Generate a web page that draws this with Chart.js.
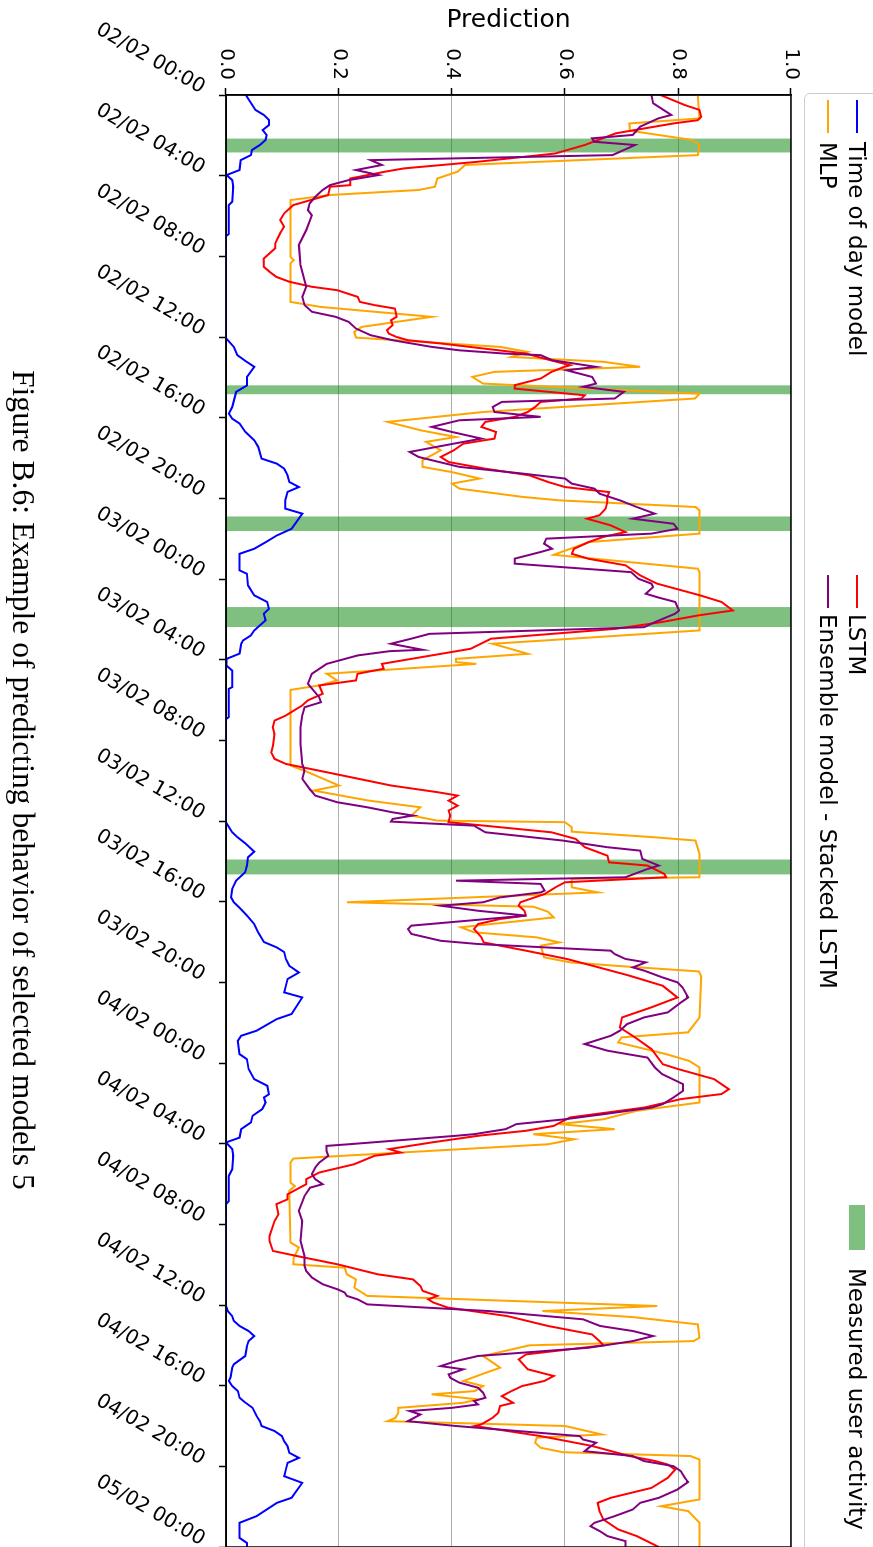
<!DOCTYPE html>
<html><head><meta charset="utf-8">
<script src="https://cdn.jsdelivr.net/npm/chart.js@4.4.1/dist/chart.umd.min.js"></script>
<style>
html,body{margin:0;padding:0;background:#fff;overflow:hidden;width:873px;height:1547px;}
#fig{position:absolute;left:0;top:0;width:1547px;height:873px;transform-origin:0 0;transform:translate(873px,0) rotate(90deg);background:#fff;overflow:hidden;font-family:'DejaVu Sans';}
#chartWrap{position:absolute;left:0;top:0;width:1547px;height:873px;}
.legbox{position:absolute;left:93px;top:-30px;width:1600px;height:97px;border:1.5px solid #cccccc;border-radius:6px;background:#fff;}
.h{position:absolute;height:2px;width:33px;}
.t{position:absolute;font-size:23px;line-height:28px;height:28px;white-space:nowrap;color:#000;}
#cap{position:absolute;font-family:'Liberation Serif';white-space:nowrap;color:#000;line-height:normal;}
</style></head>
<body>
<div id="fig">
  <div id="chartWrap"><canvas id="c" width="1547" height="873"></canvas></div>
  <div class="legbox"></div>
  <div class="h" style="left:100px;top:15px;background:#0000ff"></div>
  <div class="t" style="left:142px;top:2px">Time of day model</div>
  <div class="h" style="left:100px;top:44px;background:#ffa500"></div>
  <div class="t" style="left:142px;top:31px">MLP</div>
  <div class="h" style="left:575px;top:15px;background:#ff0000"></div>
  <div class="t" style="left:614px;top:2px">LSTM</div>
  <div class="h" style="left:575px;top:44px;background:#800080"></div>
  <div class="t" style="left:614px;top:31px">Ensemble model - Stacked LSTM</div>
  <div style="position:absolute;left:1205px;top:8px;width:45px;height:16px;background:rgba(0,128,0,0.5)"></div>
  <div class="t" style="left:1268px;top:2px">Measured user activity</div>
  <div id="cap">Figure B.6: Example of predicting behavior of selected models 5</div>
</div>
<script>
// ---- data (time in hours from 02/02 00:00, prediction value) ----
const timeTickLabels = ['02/02 00:00','02/02 04:00','02/02 08:00','02/02 12:00','02/02 16:00','02/02 20:00',
  '03/02 00:00','03/02 04:00','03/02 08:00','03/02 12:00','03/02 16:00','03/02 20:00',
  '04/02 00:00','04/02 04:00','04/02 08:00','04/02 12:00','04/02 16:00','04/02 20:00','05/02 00:00'];
const predTickLabels = ['0.0','0.2','0.4','0.6','0.8','1.0'];

const activityStart = [2.15, 14.39, 20.89, 25.39, 37.9];
const activityEnd   = [2.86, 14.85, 21.62, 26.39, 38.66];

const timeOfDay = [[0,0.035],[0.74,0.052],[0.99,0.067],[1.24,0.076],[1.49,0.076],[1.74,0.065],[1.99,0.072],[2.23,0.07],[2.48,0.06],[2.73,0.046],[2.98,0.044],[3.23,0.026],[3.72,0.024],[3.97,0.001],[4.22,0.011],[4.55,0.013],[5.29,0.011],[5.46,0.005],[6.9,0.005],[7.0,0],[12.06,0],[12.5,0.014],[12.9,0.02],[13.2,0.035],[13.48,0.05],[13.98,0.037],[14.4,0.037],[14.72,0.018],[15.47,0.011],[15.8,0.005],[16.05,0.011],[16.29,0.024],[16.7,0.034],[17.12,0.05],[17.45,0.057],[18.03,0.063],[18.28,0.09],[18.53,0.103],[18.86,0.109],[19.19,0.112],[19.44,0.129],[19.68,0.109],[20.1,0.105],[20.51,0.105],[20.76,0.135],[21.51,0.116],[21.84,0.09],[22.18,0.07],[22.5,0.05],[22.75,0.024],[23.57,0.024],[23.74,0.037],[24.32,0.039],[24.81,0.05],[25.14,0.073],[25.48,0.076],[25.72,0.067],[26.05,0.07],[26.3,0.06],[26.55,0.05],[26.8,0.044],[27.05,0.03],[27.21,0.027],[27.7,0.024],[27.96,0.001],[28.3,0.001],[28.54,0.011],[29.36,0.011],[29.45,0.005],[30.85,0.005],[30.95,0],[36.06,0],[36.3,0.005],[36.56,0.011],[36.8,0.02],[37.1,0.034],[37.52,0.05],[37.8,0.039],[38.2,0.037],[38.54,0.034],[38.96,0.018],[39.37,0.011],[39.79,0.009],[40.03,0.014],[40.3,0.024],[40.69,0.037],[41.11,0.05],[41.52,0.057],[42.0,0.067],[42.27,0.09],[42.5,0.103],[42.84,0.106],[43.18,0.112],[43.51,0.129],[43.84,0.109],[44.17,0.106],[44.5,0.103],[44.75,0.135],[45.57,0.116],[45.82,0.09],[46.4,0.054],[46.65,0.027],[46.9,0.021],[47.56,0.024],[47.81,0.037],[48.3,0.04],[48.8,0.05],[49.13,0.073],[49.55,0.076],[49.71,0.067],[49.96,0.07],[50.29,0.064],[50.62,0.047],[50.95,0.044],[51.28,0.027],[51.7,0.024],[51.94,0],[52.27,0.011],[52.6,0.013],[53.27,0.011],[53.6,0.005],[54.85,0.005],[55.0,0],[60.05,0],[60.3,0.003],[60.55,0.011],[60.79,0.014],[61.04,0.024],[61.29,0.04],[61.54,0.05],[61.79,0.04],[62.04,0.037],[62.53,0.034],[62.94,0.014],[63.11,0.011],[63.6,0.008],[63.77,0.005],[64.02,0.011],[64.27,0.021],[64.6,0.024],[64.77,0.031],[65.1,0.047],[65.5,0.054],[65.76,0.06],[66.0,0.063],[66.25,0.086],[66.5,0.099],[66.75,0.103],[67.0,0.109],[67.33,0.112],[67.58,0.129],[67.83,0.109],[68.16,0.106],[68.49,0.103],[68.82,0.135],[69.56,0.116],[69.81,0.09],[70.47,0.054],[70.8,0.024],[71.55,0.024],[71.8,0.037],[72,0.037]];

const mlp = [[0,0.835],[1.16,0.838],[1.41,0.714],[1.77,0.715],[2.23,0.825],[2.48,0.838],[2.98,0.835],[3.47,0.423],[3.8,0.41],[4.14,0.374],[4.55,0.37],[4.71,0.341],[4.96,0.184],[5.21,0.114],[8.03,0.114],[8.19,0.12],[8.35,0.114],[10.26,0.114],[10.51,0.168],[11.0,0.364],[11.5,0.24],[11.75,0.227],[12.03,0.23],[12.49,0.485],[12.74,0.534],[12.99,0.505],[13.23,0.668],[13.48,0.733],[13.73,0.475],[13.98,0.436],[14.31,0.455],[14.81,0.838],[15.05,0.83],[15.72,0.455],[16.21,0.286],[16.63,0.345],[16.96,0.407],[17.2,0.354],[17.62,0.38],[18.11,0.348],[18.44,0.348],[18.7,0.4],[19.02,0.449],[19.27,0.4],[19.52,0.413],[19.93,0.525],[20.1,0.59],[20.43,0.831],[20.6,0.838],[21.75,0.838],[22.17,0.642],[22.8,0.58],[23.49,0.835],[23.65,0.838],[26.55,0.838],[27.05,0.563],[27.21,0.472],[27.71,0.534],[27.96,0.407],[28.12,0.407],[28.21,0.443],[28.7,0.178],[29.03,0.197],[29.28,0.165],[29.5,0.114],[33.25,0.114],[33.58,0.145],[34.24,0.2],[34.49,0.155],[34.99,0.253],[35.32,0.344],[35.73,0.328],[35.98,0.374],[36.06,0.6],[36.31,0.612],[36.53,0.612],[36.81,0.76],[36.97,0.831],[37.63,0.838],[38.79,0.838],[38.87,0.612],[39.29,0.612],[39.54,0.658],[40.03,0.214],[40.25,0.544],[40.5,0.57],[40.78,0.58],[41.27,0.416],[41.52,0.439],[41.77,0.55],[42.02,0.59],[42.18,0.557],[42.76,0.563],[43.01,0.609],[43.2,0.7],[43.46,0.837],[43.7,0.841],[45.74,0.838],[46.48,0.818],[46.73,0.7],[46.98,0.694],[47.56,0.779],[47.9,0.82],[48.22,0.838],[49.96,0.838],[50.37,0.727],[50.79,0.668],[51.03,0.59],[51.28,0.688],[51.53,0.544],[51.78,0.616],[52.03,0.57],[52.74,0.119],[52.94,0.114],[53.93,0.114],[54.1,0.122],[54.34,0.112],[56.9,0.114],[57.15,0.129],[57.65,0.12],[57.98,0.119],[58.15,0.21],[58.48,0.214],[58.73,0.23],[59.14,0.227],[59.55,0.25],[60.05,0.763],[60.3,0.56],[60.6,0.72],[60.96,0.835],[61.62,0.838],[61.79,0.828],[62.0,0.537],[62.53,0.455],[62.85,0.472],[63.11,0.485],[63.44,0.452],[63.77,0.42],[64.02,0.455],[64.27,0.44],[64.43,0.364],[64.68,0.446],[64.85,0.42],[65.1,0.305],[65.34,0.305],[65.6,0.3],[65.76,0.286],[66.0,0.6],[66.42,0.665],[66.58,0.55],[66.83,0.547],[67.08,0.557],[67.3,0.596],[67.49,0.822],[67.66,0.838],[69.64,0.838],[69.98,0.77],[70.22,0.818],[70.8,0.838],[72,0.838]];

const lstm = [[0,0.769],[0.5,0.812],[0.74,0.838],[1.08,0.841],[1.25,0.835],[1.41,0.792],[1.9,0.69],[2.48,0.635],[2.9,0.583],[3.31,0.446],[3.64,0.315],[3.8,0.282],[4.14,0.22],[4.47,0.22],[4.55,0.184],[4.96,0.181],[5.46,0.119],[5.87,0.103],[6.2,0.096],[6.53,0.103],[6.85,0.096],[7.36,0.087],[7.6,0.087],[8.11,0.067],[8.52,0.067],[8.76,0.077],[9.02,0.089],[9.26,0.112],[9.51,0.152],[9.68,0.197],[10.01,0.233],[10.26,0.237],[10.42,0.263],[10.59,0.299],[11.0,0.302],[11.17,0.292],[11.41,0.295],[11.66,0.285],[11.83,0.288],[12.0,0.302],[12.16,0.322],[12.32,0.38],[12.82,0.531],[13.07,0.563],[13.4,0.609],[13.48,0.599],[13.73,0.576],[14.06,0.557],[14.39,0.511],[14.56,0.511],[14.89,0.635],[15.05,0.629],[15.22,0.557],[15.47,0.547],[15.72,0.534],[15.96,0.511],[16.21,0.459],[16.46,0.452],[16.71,0.478],[17.04,0.475],[17.29,0.42],[17.62,0.403],[17.95,0.38],[18.2,0.394],[18.53,0.459],[18.86,0.537],[19.19,0.57],[19.44,0.6],[19.69,0.678],[19.93,0.675],[20.18,0.675],[20.51,0.672],[20.84,0.661],[21.01,0.639],[21.34,0.681],[21.67,0.707],[21.92,0.667],[22.17,0.642],[22.5,0.616],[22.75,0.612],[23.0,0.642],[23.32,0.707],[23.82,0.733],[24.23,0.763],[24.81,0.839],[25.14,0.877],[25.56,0.897],[25.8,0.837],[26.14,0.77],[26.47,0.69],[26.96,0.469],[27.46,0.433],[28.21,0.276],[28.45,0.279],[28.7,0.233],[29.03,0.23],[29.28,0.165],[29.69,0.171],[30.02,0.145],[30.27,0.135],[30.77,0.106],[31.02,0.086],[31.35,0.083],[31.68,0.086],[32.26,0.083],[32.6,0.08],[32.92,0.086],[33.17,0.106],[33.58,0.178],[34.24,0.292],[34.57,0.374],[34.74,0.41],[34.99,0.394],[35.24,0.41],[35.48,0.394],[35.73,0.397],[36.06,0.394],[36.2,0.446],[36.56,0.576],[36.89,0.619],[37.3,0.635],[37.72,0.675],[38.05,0.678],[38.21,0.746],[38.63,0.776],[38.79,0.779],[39.04,0.6],[39.29,0.583],[39.62,0.564],[40.03,0.521],[40.2,0.518],[40.45,0.528],[40.69,0.531],[40.86,0.485],[41.11,0.446],[41.36,0.439],[41.77,0.452],[42.02,0.456],[42.18,0.485],[42.43,0.531],[42.84,0.603],[43.18,0.649],[43.67,0.714],[44.17,0.773],[44.75,0.799],[45.24,0.753],[45.74,0.701],[46.24,0.697],[46.73,0.724],[47.31,0.753],[48.06,0.773],[48.3,0.8],[48.8,0.864],[49.3,0.89],[49.54,0.877],[49.79,0.805],[50.21,0.74],[50.7,0.609],[51.12,0.58],[51.36,0.531],[51.61,0.446],[51.94,0.364],[52.27,0.289],[52.44,0.309],[52.6,0.263],[53.02,0.227],[53.43,0.165],[53.76,0.142],[54.01,0.142],[54.51,0.109],[54.76,0.109],[55.0,0.089],[55.5,0.093],[55.83,0.086],[56.58,0.077],[56.82,0.077],[57.32,0.083],[57.65,0.139],[57.98,0.197],[58.48,0.269],[58.73,0.331],[59.06,0.344],[59.3,0.348],[59.55,0.374],[59.72,0.358],[59.88,0.367],[60.13,0.393],[60.55,0.498],[61.04,0.57],[61.46,0.648],[61.79,0.661],[62.0,0.668],[62.45,0.531],[62.7,0.518],[63.19,0.534],[63.52,0.58],[63.77,0.563],[64.02,0.524],[64.27,0.505],[64.52,0.488],[64.85,0.508],[65.01,0.485],[65.34,0.482],[65.59,0.472],[65.92,0.452],[66.0,0.44],[66.5,0.557],[66.99,0.648],[67.49,0.714],[67.74,0.76],[67.91,0.782],[68.16,0.795],[68.57,0.782],[69.07,0.753],[69.56,0.681],[69.81,0.658],[70.22,0.661],[70.64,0.668],[71.13,0.694],[71.46,0.727],[72,0.766]];

const ensemble = [[0,0.753],[0.41,0.756],[0.99,0.788],[1.16,0.765],[1.57,0.733],[1.98,0.72],[2.15,0.648],[2.32,0.652],[2.48,0.724],[2.98,0.684],[3.23,0.256],[3.47,0.276],[3.72,0.23],[3.97,0.27],[4.22,0.217],[4.47,0.184],[4.71,0.171],[5.05,0.158],[5.38,0.148],[5.71,0.145],[5.96,0.152],[6.7,0.142],[7.44,0.129],[8.44,0.132],[9.51,0.142],[10.01,0.135],[10.42,0.139],[10.75,0.152],[11.0,0.194],[11.25,0.217],[11.58,0.23],[11.91,0.256],[12.16,0.295],[12.49,0.364],[12.66,0.413],[12.82,0.492],[12.9,0.557],[13.15,0.577],[13.48,0.655],[13.65,0.603],[13.98,0.648],[14.31,0.655],[14.47,0.632],[14.72,0.704],[15.05,0.688],[15.22,0.488],[15.47,0.472],[15.72,0.475],[15.96,0.557],[16.13,0.413],[16.46,0.364],[16.71,0.4],[17.04,0.452],[17.29,0.403],[17.7,0.325],[17.95,0.341],[18.11,0.364],[18.44,0.413],[18.77,0.524],[19.02,0.6],[19.27,0.612],[19.52,0.652],[19.77,0.661],[20.1,0.697],[20.43,0.727],[20.76,0.759],[21.01,0.72],[21.26,0.792],[21.51,0.799],[21.75,0.753],[22.0,0.567],[22.25,0.563],[22.5,0.577],[22.66,0.557],[22.99,0.511],[23.24,0.511],[23.66,0.717],[23.99,0.73],[24.23,0.753],[24.4,0.756],[24.73,0.743],[24.9,0.763],[25.14,0.795],[25.56,0.802],[25.72,0.795],[26.14,0.759],[26.39,0.74],[26.72,0.36],[26.96,0.328],[27.21,0.292],[27.51,0.348],[27.58,0.289],[27.79,0.233],[28.21,0.178],[28.7,0.152],[29.2,0.145],[29.86,0.165],[30.11,0.168],[30.36,0.139],[30.77,0.135],[31.35,0.132],[32.18,0.132],[33.17,0.135],[33.5,0.139],[33.91,0.135],[34.41,0.148],[34.74,0.158],[35.07,0.197],[35.32,0.25],[35.57,0.295],[35.73,0.331],[35.9,0.295],[36.03,0.292],[36.23,0.439],[36.56,0.459],[36.97,0.596],[37.3,0.675],[37.47,0.733],[37.88,0.737],[38.21,0.766],[38.38,0.746],[38.79,0.707],[38.96,0.407],[39.12,0.557],[39.45,0.564],[39.54,0.557],[39.79,0.485],[40.03,0.455],[40.2,0.38],[40.45,0.446],[40.69,0.531],[41.19,0.328],[41.36,0.322],[41.6,0.328],[41.94,0.38],[42.1,0.446],[42.43,0.681],[42.6,0.688],[42.84,0.707],[43.01,0.743],[43.26,0.72],[43.42,0.74],[43.75,0.772],[44.0,0.799],[44.25,0.808],[44.75,0.818],[45.0,0.805],[45.49,0.782],[45.74,0.74],[46.07,0.71],[46.4,0.697],[46.65,0.681],[47.06,0.635],[47.39,0.675],[47.73,0.746],[48.22,0.759],[48.55,0.772],[49.05,0.809],[49.38,0.809],[49.71,0.792],[50.04,0.773],[50.21,0.753],[50.54,0.668],[50.79,0.6],[51.03,0.514],[51.28,0.495],[51.53,0.439],[51.61,0.407],[52.03,0.217],[52.11,0.178],[52.36,0.178],[52.6,0.181],[52.94,0.165],[53.18,0.158],[53.51,0.152],[53.76,0.158],[54.01,0.171],[54.18,0.149],[54.59,0.139],[55.33,0.129],[55.83,0.135],[56.82,0.132],[57.57,0.139],[58.06,0.139],[58.31,0.142],[58.64,0.152],[58.97,0.171],[59.22,0.197],[59.38,0.21],[59.55,0.214],[59.72,0.233],[59.97,0.25],[60.3,0.465],[60.71,0.632],[61.04,0.662],[61.29,0.72],[61.54,0.756],[61.79,0.72],[62.12,0.642],[62.53,0.446],[62.78,0.407],[63.03,0.38],[63.19,0.42],[63.44,0.394],[63.61,0.397],[63.85,0.413],[64.1,0.446],[64.35,0.455],[64.6,0.459],[64.76,0.439],[64.93,0.446],[65.1,0.4],[65.26,0.325],[65.43,0.344],[65.67,0.328],[65.76,0.322],[66.0,0.407],[66.5,0.626],[66.67,0.632],[66.83,0.655],[67.08,0.642],[67.25,0.635],[67.49,0.72],[67.74,0.74],[67.99,0.792],[68.24,0.805],[68.57,0.812],[68.78,0.818],[69.15,0.799],[69.56,0.766],[69.81,0.733],[70.14,0.72],[70.47,0.688],[70.8,0.652],[70.97,0.645],[71.22,0.662],[71.46,0.675],[71.71,0.707],[72,0.707]];

// ---- build chart ----
const toPts = arr => arr.map(p => ({x: p[0], y: p[1]}));
const activityPts = [];
activityStart.forEach((s, i) => {
  activityPts.push({x: s, y: 1}, {x: activityEnd[i], y: 1}, {x: activityEnd[i], y: null});
});

Chart.defaults.font.family = "'DejaVu Sans'";
Chart.defaults.color = '#000';

const framePlugin = {
  id: 'frame',
  afterDatasetsDraw(chart) {
    const {ctx, chartArea: a} = chart;
    ctx.save();
    ctx.strokeStyle = '#000';
    ctx.lineWidth = 1.5;
    ctx.strokeRect(a.left, a.top, a.right - a.left, a.bottom - a.top);
    ctx.restore();
  }
};

const lineDs = (label, data, color, order) => ({
  label, data: toPts(data), borderColor: color, backgroundColor: color,
  borderWidth: 2, pointRadius: 0, tension: 0, fill: false, order
});

new Chart(document.getElementById('c'), {
  type: 'line',
  data: {
    datasets: [
      {label: 'Measured user activity', data: activityPts, borderWidth: 0, borderColor: 'rgba(0,0,0,0)',
       backgroundColor: 'rgba(0,128,0,0.5)', fill: 'origin', pointRadius: 0, spanGaps: false, order: 10},
      lineDs('Time of day model', timeOfDay, '#0000ff', 4),
      lineDs('MLP', mlp, '#ffa500', 3),
      lineDs('LSTM', lstm, '#ff0000', 2),
      lineDs('Ensemble model - Stacked LSTM', ensemble, '#800080', 1)
    ]
  },
  options: {
    responsive: false, animation: false, devicePixelRatio: 1,
    layout: {padding: {top: 82, right: 0, left: 0, bottom: 0}},
    plugins: {legend: {display: false}, tooltip: {enabled: false}},
    scales: {
      x: {
        type: 'linear', min: 0, max: 72, position: 'bottom',
        ticks: {stepSize: 4, autoSkip: false, maxRotation: 60, minRotation: 60, padding: 10, labelOffset: -6,
                color: '#000', font: {size: 20},
                callback: (v) => timeTickLabels[Math.round(v / 4)]},
        grid: {drawOnChartArea: false, drawTicks: true, tickLength: 7, tickColor: '#000', tickWidth: 1.5},
        border: {display: true, color: '#000', width: 1.5},
        afterFit: s => { s.height = 226; s.paddingLeft = 0; s.paddingRight = 0; }
      },
      y: {
        min: 0, max: 1, position: 'left',
        ticks: {stepSize: 0.2, padding: 8, color: '#000', font: {size: 20},
                callback: (v, i) => predTickLabels[i]},
        grid: {color: '#b0b0b0', lineWidth: 1, tickColor: '#000', tickLength: 7, tickWidth: 1.5},
        border: {display: true, color: '#000', width: 1.5},
        title: {display: true, text: 'Prediction', color: '#000', font: {size: 25}, padding: {top: 5, bottom: 4}},
        afterFit: s => { s.width = 95; s.paddingTop = 0; s.paddingBottom = 0; }
      }
    }
  },
  plugins: [framePlugin]
});

// caption sizing
(function(){
  const cap = document.getElementById('cap');
  const cv = document.createElement('canvas').getContext('2d');
  cv.font = "24px 'Liberation Serif'";
  const w = cv.measureText(cap.textContent).width;
  const size = 24 * 820 / w;
  cap.style.fontSize = size + 'px';
  cap.style.left = '370px';
  cap.style.top = (860 - 0.891 * size) + 'px';
})();
</script>
</body></html>
